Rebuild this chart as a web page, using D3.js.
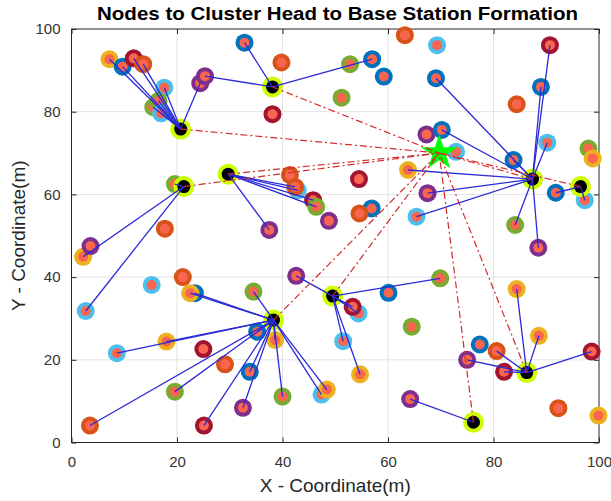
<!DOCTYPE html>
<html>
<head>
<meta charset="utf-8">
<script src="https://d3js.org/d3.v7.min.js"></script>
<style>
body { margin: 0; background: #fff; }
text { font-family: 'Liberation Sans', Arial, sans-serif; }
</style>
</head>
<body>
<svg id="chart" width="611" height="501"></svg>
<script>
// cluster heads
var headX = [20.7, 38.1, 21.3, 29.7, 87.4, 96.5, 49.5, 76.2, 86.3, 38.3];
var headY = [75.8, 86.0, 61.9, 64.9, 63.7, 61.9, 35.4, 4.9, 16.9, 29.6];
// base station
var baseX = 69.7, baseY = 70.0;
// sensor nodes: position, ring colour, cluster head index (-1 = none)
var nodeX = [7.2, 9.7, 11.8, 13.6, 17.6, 15.5, 16.5, 17.0, 24.4,
  32.8, 25.3, 57.0, 52.8,
  19.6, 2.2, 2.7, 3.6,
  41.4, 42.9, 42.4, 45.8, 46.4, 37.5, 48.8,
  39.8, 38.1, 17.7, 51.2, 59.2, 63.2, 69.3, 84.4, 67.3, 72.9, 98.0, 98.8, 54.5, 56.9, 54.6,
  69.1, 70.2, 89.0, 90.7, 90.2, 83.8, 63.8, 67.5, 65.4, 84.1, 88.5,
  91.8, 97.3,
  42.6, 69.9, 54.4, 53.3, 51.5, 54.7, 60.1, 64.5,
  64.2,
  84.4, 88.6, 80.6, 75.0, 82.0, 98.6, 77.4, 92.3, 99.9,
  23.4, 22.5, 34.5, 18.0, 8.6, 35.2, 38.6, 3.5, 19.6, 25.1, 32.5, 33.8, 40.0, 47.4, 48.4,
  21.1, 15.2, 25.0, 29.1];
var nodeY = [92.7, 90.9, 92.9, 91.5, 85.8, 81.1, 82.6, 79.6, 86.9,
  96.7, 88.6, 92.7, 91.5,
  62.5, 44.9, 31.8, 47.5,
  64.7, 61.0, 61.8, 58.6, 57.0, 51.4, 53.6,
  91.9, 79.4, 51.7, 83.4, 88.5, 98.5, 96.1, 81.8, 74.5, 70.3, 71.1, 68.7, 63.7, 56.6, 55.4,
  88.1, 75.6, 86.0, 96.1, 72.5, 68.3, 65.9, 60.3, 54.6, 52.6, 47.1,
  60.4, 58.6,
  40.3, 39.7, 31.2, 32.8, 24.5, 16.5, 36.2, 28.0,
  10.5,
  37.1, 25.8, 22.1, 20.0, 17.1, 22.0, 23.7, 8.3, 6.5,
  36.1, 36.1, 36.5, 24.4, 21.6, 26.8, 24.8, 4.1, 12.3, 4.1, 8.4, 17.1, 11.1, 11.6, 12.8,
  40.0, 38.1, 22.6, 18.9];
var nodeRing = ['yellow', 'blue', 'maroon', 'orange', 'cyan', 'green', 'green', 'cyan', 'purple',
  'blue', 'purple', 'blue', 'green',
  'green', 'yellow', 'cyan', 'purple',
  'orange', 'cyan', 'orange', 'maroon', 'green', 'purple', 'purple',
  'orange', 'maroon', 'orange', 'green', 'blue', 'orange', 'cyan', 'orange', 'purple', 'cyan', 'green', 'yellow', 'maroon', 'blue', 'orange',
  'blue', 'blue', 'blue', 'maroon', 'cyan', 'blue', 'yellow', 'purple', 'cyan', 'green', 'purple',
  'blue', 'cyan',
  'purple', 'green', 'cyan', 'maroon', 'cyan', 'yellow', 'blue', 'green',
  'purple',
  'yellow', 'yellow', 'orange', 'purple', 'maroon', 'maroon', 'blue', 'orange', 'yellow',
  'blue', 'yellow', 'green', 'yellow', 'cyan', 'blue', 'yellow', 'orange', 'green', 'maroon', 'purple', 'blue', 'green', 'cyan', 'yellow',
  'orange', 'cyan', 'maroon', 'orange'];
var nodeHead = [0, 0, 0, 0, 0, 0, 0, 0, 0,
  1, 1, 1, -1,
  2, 2, 2, -1,
  -1, 3, 3, 3, 3, 3, -1,
  -1, -1, -1, -1, -1, -1, -1, -1, -1, -1, -1, -1, -1, -1, -1,
  4, 4, 4, 4, 4, 4, 4, 4, 4, 4, 4,
  5, 5,
  6, 6, 6, 6, 6, 6, -1, -1,
  7,
  8, 8, 8, 8, 8, 8, -1, -1, -1,
  9, 9, 9, 9, 9, 9, 9, 9, 9, 9, 9, 9, 9, 9, 9,
  -1, -1, -1, -1];
var ticks = [0, 20, 40, 60, 80, 100];

var svg = d3.select("#chart");
var x = d3.scaleLinear().domain([0, 100]).range([71.5, 599]);
var y = d3.scaleLinear().domain([0, 100]).range([442.5, 29]);
var ringColor = d3.scaleOrdinal()
  .domain(['blue', 'orange', 'yellow', 'purple', 'green', 'cyan', 'maroon'])
  .range(['#0072BD', '#D95319', '#EDB120', '#7E2F8E', '#77AC30', '#4DBEEE', '#A2142F']);

// grid
var grid = svg.append("g");
grid.selectAll("line.gx").data(ticks.slice(1, 5)).enter().append("line")
  .attr("x1", d => x(d)).attr("x2", d => x(d)).attr("y1", y(0)).attr("y2", y(100))
  .attr("stroke", "#e3e3e3").attr("stroke-width", 1);
grid.selectAll("line.gy").data(ticks.slice(1, 5)).enter().append("line")
  .attr("y1", d => y(d)).attr("y2", d => y(d)).attr("x1", x(0)).attr("x2", x(100))
  .attr("stroke", "#e3e3e3").attr("stroke-width", 1);

// axes, MATLAB style ticks pointing inwards
function styleAxis(g) {
  g.select(".domain").remove();
  g.selectAll(".tick line").attr("stroke", "#262626");
  g.selectAll(".tick text").attr("fill", "#333").style("font-size", "15px")
    .style("font-family", "'Liberation Sans', Arial, sans-serif");
}
svg.append("g").attr("transform", "translate(0," + y(0) + ")")
  .call(d3.axisBottom(x).tickValues(ticks).tickSizeInner(-5).tickPadding(14))
  .call(styleAxis);
svg.append("g").attr("transform", "translate(" + x(0) + ",0)")
  .call(d3.axisLeft(y).tickValues(ticks).tickSizeInner(-5).tickPadding(11))
  .call(styleAxis);
svg.append("g").attr("transform", "translate(0," + y(100) + ")")
  .call(d3.axisTop(x).tickValues(ticks).tickSizeInner(-5).tickFormat(""))
  .call(styleAxis);
svg.append("g").attr("transform", "translate(" + x(100) + ",0)")
  .call(d3.axisRight(y).tickValues(ticks).tickSizeInner(-5).tickFormat(""))
  .call(styleAxis);
svg.append("rect").attr("x", x(0)).attr("y", y(100))
  .attr("width", x(100) - x(0)).attr("height", y(0) - y(100))
  .attr("fill", "none").attr("stroke", "#262626").attr("stroke-width", 1);

// nodes
var nodes = svg.append("g");
nodeX.forEach(function (nx, i) {
  nodes.append("circle").attr("cx", x(nx)).attr("cy", y(nodeY[i])).attr("r", 9)
    .attr("fill", ringColor(nodeRing[i]));
  nodes.append("circle").attr("cx", x(nx)).attr("cy", y(nodeY[i])).attr("r", 5)
    .attr("fill", "#F9654F");
});

// cluster heads
var heads = svg.append("g");
headX.forEach(function (hx, i) {
  heads.append("circle").attr("cx", x(hx)).attr("cy", y(headY[i])).attr("r", 10.5)
    .attr("fill", "#CCFF00");
  heads.append("circle").attr("cx", x(hx)).attr("cy", y(headY[i])).attr("r", 6.5)
    .attr("fill", "#000");
});

// node -> cluster head links
var links = svg.append("g");
nodeX.forEach(function (nx, i) {
  var h = nodeHead[i];
  if (h < 0) return;
  links.append("line")
    .attr("x1", x(nx)).attr("y1", y(nodeY[i]))
    .attr("x2", x(headX[h])).attr("y2", y(headY[h]))
    .attr("stroke", "#2a2ad6").attr("stroke-width", 1.3);
});

// base station
svg.append("path")
  .attr("d", d3.symbol().type(d3.symbolStar).size(400))
  .attr("transform", "translate(" + x(baseX) + "," + y(baseY) + ")")
  .attr("fill", "#00FF00");

// cluster head -> base station links
var bsLinks = svg.append("g");
headX.forEach(function (hx, i) {
  bsLinks.append("line")
    .attr("x1", x(hx)).attr("y1", y(headY[i]))
    .attr("x2", x(baseX)).attr("y2", y(baseY))
    .attr("stroke", "#d42a2a").attr("stroke-width", 1.2)
    .attr("stroke-dasharray", "7,3,2,3");
});

// labels
svg.append("text").attr("x", 97).attr("y", 19.5)
  .attr("textLength", 481).attr("lengthAdjust", "spacingAndGlyphs")
  .style("font-size", "18px").style("font-weight", "bold")
  .attr("fill", "#000").text("Nodes to Cluster Head to Base Station Formation");
svg.append("text").attr("x", (x(0) + x(100)) / 2).attr("y", 491.5)
  .attr("text-anchor", "middle").style("font-size", "19px").attr("fill", "#262626")
  .text("X - Coordinate(m)");
svg.append("text").attr("transform", "translate(25," + ((y(0) + y(100)) / 2) + ") rotate(-90)")
  .attr("text-anchor", "middle").style("font-size", "19px").attr("fill", "#262626")
  .text("Y - Coordinate(m)");
</script>
</body>
</html>
